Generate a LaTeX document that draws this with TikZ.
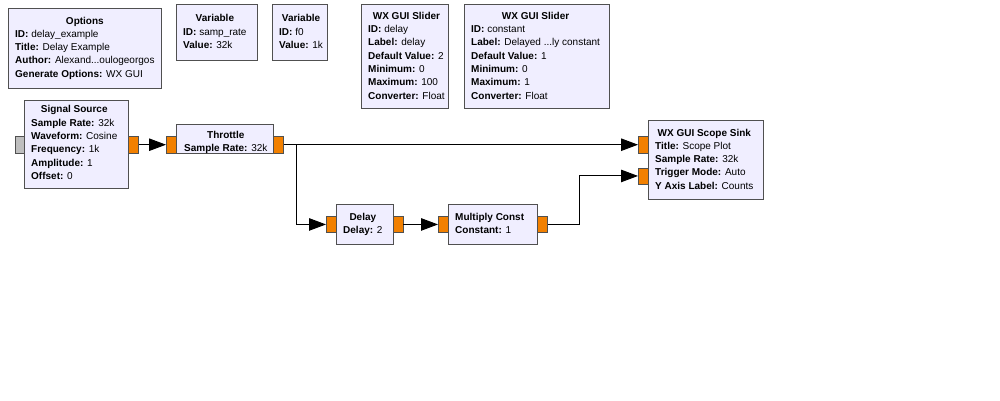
\documentclass[tikz,border=0pt]{standalone}
\usepackage{fontspec}
\setmainfont{Liberation Sans}
\usetikzlibrary{arrows.meta,calc}
\definecolor{blockfill}{HTML}{F0EEFF}
\definecolor{bordercol}{HTML}{505050}
\definecolor{portorange}{HTML}{F28000}
\definecolor{portgray}{HTML}{BEBEBE}
\newcommand{\blk}[2]{\begin{tabular}{@{}l@{}}\multicolumn{1}{@{}c@{}}{\textbf{#1}}\\#2\end{tabular}}
\begin{document}
\begin{tikzpicture}[x=1pt,y=-1pt,
  blockbox/.style={draw=bordercol,fill=blockfill,line width=0.9pt,inner sep=0pt,anchor=north west},
  blocktext/.style={inner sep=0pt,anchor=west,font=\fontsize{10}{13.3}\selectfont},
  portbox/.style={draw=bordercol,fill=portorange,line width=0.9pt,inner sep=0pt,anchor=north west,minimum width=10pt,minimum height=16.5pt},
  graybox/.style={portbox,fill=portgray,minimum width=9pt},
  wire/.style={line width=1pt,-{Triangle[length=17pt,width=12.5pt]}}]
\fill[white] (0,0) rectangle (1000,400);
\useasboundingbox (0,0) rectangle (1000,400);

% Options
\node[blockbox,minimum width=153pt,minimum height=80pt] (opt) at (8,8) {};
\node[blocktext] (opt-t) at ([xshift=7pt,yshift=0.5pt]opt.west) {\blk{Options}{\textbf{ID:} delay\_example\\\textbf{Title:} Delay Example\\\textbf{Author:} Alexand...oulogeorgos\\\textbf{Generate Options:} WX GUI}};

% Variables
\node[blockbox,minimum width=81pt,minimum height=56pt] (var1) at (176,4) {};
\node[blocktext] (var1-t) at ([xshift=7pt]var1.west) {\blk{Variable}{\textbf{ID:} samp\_rate\\\textbf{Value:} 32k}};
\node[blockbox,minimum width=55pt,minimum height=56pt] (var2) at (272,4) {};
\node[blocktext] (var2-t) at ([xshift=7pt]var2.west) {\blk{Variable}{\textbf{ID:} f0\\\textbf{Value:} 1k}};

% Sliders
\node[blockbox,minimum width=87pt,minimum height=104pt] (sl1) at (361,4) {};
\node[blocktext] (sl1-t) at ([xshift=7pt]sl1.west) {\blk{WX GUI Slider}{\textbf{ID:} delay\\\textbf{Label:} delay\\\textbf{Default Value:} 2\\\textbf{Minimum:} 0\\\textbf{Maximum:} 100\\\textbf{Converter:} Float}};
\node[blockbox,minimum width=145pt,minimum height=104pt] (sl2) at (464,4) {};
\node[blocktext] (sl2-t) at ([xshift=7pt]sl2.west) {\blk{WX GUI Slider}{\textbf{ID:} constant\\\textbf{Label:} Delayed ...ly constant\\\textbf{Default Value:} 1\\\textbf{Minimum:} 0\\\textbf{Maximum:} 1\\\textbf{Converter:} Float}};

% Signal Source
\node[graybox] (ss-i) at (15,136) {};
\node[blockbox,minimum width=104pt,minimum height=88pt] (ss) at (24,100) {};
\node[blocktext] (ss-t) at ([xshift=7pt,yshift=1pt]ss.west) {\blk{Signal Source}{\textbf{Sample Rate:} 32k\\\textbf{Waveform:} Cosine\\\textbf{Frequency:} 1k\\\textbf{Amplitude:} 1\\\textbf{Offset:} 0}};
\node[portbox] (ss-o) at (128,136) {};

% Throttle
\node[portbox] (th-i) at (166,136) {};
\node[blockbox,minimum width=97pt,minimum height=29pt] (th) at (176,124) {};
\node[blocktext] (th-t) at ([xshift=8pt,yshift=-3.3pt]th.west) {\blk{Throttle}{\textbf{Sample Rate:} 32k}};
\node[portbox] (th-o) at (273,136) {};

% Delay
\node[portbox,minimum height=16pt] (de-i) at (326,216) {};
\node[blockbox,minimum width=56.5pt,minimum height=40pt] (de) at (336,204) {};
\node[blocktext] (de-t) at ([xshift=7pt]de.west) {\blk{Delay}{\textbf{Delay:} 2}};
\node[portbox,minimum height=16pt] (de-o) at (392.5,216) {};

% Multiply Const
\node[portbox,minimum height=16pt] (mc-i) at (438,216) {};
\node[blockbox,minimum width=89pt,minimum height=40pt] (mc) at (448,204) {};
\node[blocktext] (mc-t) at ([xshift=7pt]mc.west) {\blk{Multiply Const}{\textbf{Constant:} 1}};
\node[portbox,minimum height=16pt] (mc-o) at (537,216) {};

% Scope Sink
\node[portbox] (sc-i1) at (638,136) {};
\node[portbox,minimum height=16pt] (sc-i2) at (638,167.5) {};
\node[blockbox,minimum width=115pt,minimum height=79pt] (sc) at (648,120) {};
\node[blocktext] (sc-t) at ([xshift=7pt]sc.west) {\blk{WX GUI Scope Sink}{\textbf{Title:} Scope Plot\\\textbf{Sample Rate:} 32k\\\textbf{Trigger Mode:} Auto\\\textbf{Y Axis Label:} Counts}};

% Connections
\draw[wire] (ss-o.east) -- (th-i.west);
\draw[wire] (th-o.east) -- (sc-i1.west);
\draw[wire] (th-o.east) -- ++(13,0) |- (de-i.west);
\draw[wire] (de-o.east) -- (mc-i.west);
\draw[wire] (mc-o.east) -- ++(31.5,0) |- (sc-i2.west);
\end{tikzpicture}
\end{document}
